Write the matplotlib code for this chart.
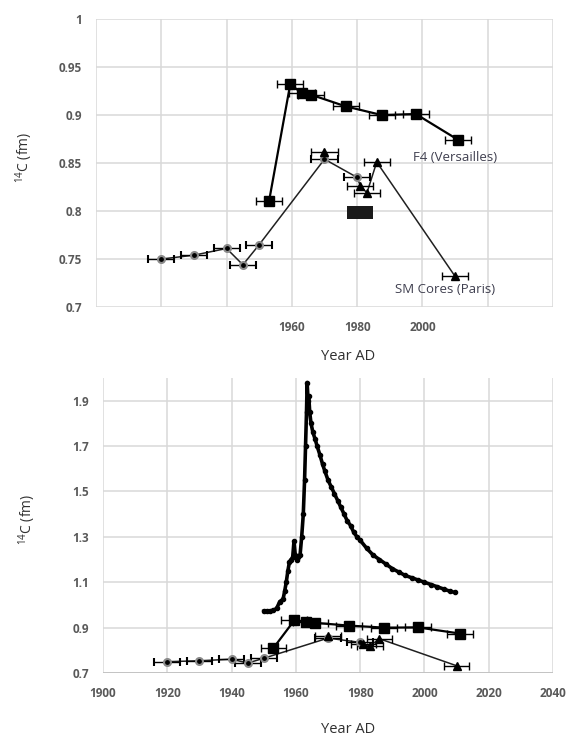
#!/usr/bin/env python3

import matplotlib
matplotlib.use("Agg")
import matplotlib.pyplot as plt
from matplotlib.patches import Rectangle

plt.rcParams['font.family'] = ['Open Sans', 'DejaVu Sans']
plt.rcParams['mathtext.fontset'] = 'custom'
plt.rcParams['mathtext.rm'] = 'Open Sans'

# F4 (Versailles) squares
f4_year = [1953, 1959.5, 1963, 1966, 1976.5, 1987.5, 1998, 2011]
f4_val = [0.810, 0.932, 0.923, 0.921, 0.909, 0.900, 0.901, 0.874]

# SM Cores (Paris): circles and triangles
sm_circ_year = [1920, 1930, 1940, 1945, 1950, 1970, 1980]
sm_circ_val = [0.750, 0.754, 0.761, 0.744, 0.765, 0.854, 0.835]
sm_tri_year = [1970, 1981, 1983, 1986, 2010]
sm_tri_val = [0.862, 0.826, 0.819, 0.851, 0.732]
year_err = 4

# black box in top panel
box_years = (1977, 1985)
box_vals = (0.792, 0.805)

# atmospheric bomb curve (bottom panel)
bomb_year = [1950.0, 1951.0, 1952.0, 1953.0, 1954.0, 1955.0, 1956.0, 1956.5,
             1957.0, 1957.5, 1958.0, 1958.5, 1959.0, 1959.4, 1959.8, 1960.3,
             1960.8, 1961.3, 1961.8, 1962.3, 1962.7, 1963.0, 1963.3, 1963.5,
             1963.8, 1964.0, 1964.3, 1964.7, 1965.3, 1966.0, 1966.6, 1967.5,
             1968.3, 1969.0, 1970.0, 1971.0, 1972.0, 1973.0, 1974.0, 1975.0,
             1976.0, 1977.0, 1978.0, 1979.0, 1980.0, 1982.0, 1984.0, 1986.0,
             1988.0, 1990.0, 1992.0, 1994.0, 1996.0, 1998.0, 2000.0, 2002.0,
             2004.0, 2006.0, 2008.0, 2009.5]
bomb_val = [0.972, 0.973, 0.974, 0.976, 0.985, 1.015, 1.025, 1.06,
            1.10, 1.15, 1.19, 1.20, 1.21, 1.28, 1.22, 1.20,
            1.21, 1.22, 1.30, 1.40, 1.55, 1.70, 1.85, 1.98,
            1.90, 1.92, 1.85, 1.80, 1.76, 1.73, 1.70, 1.66,
            1.62, 1.59, 1.55, 1.52, 1.49, 1.46, 1.43, 1.40,
            1.37, 1.35, 1.32, 1.30, 1.285, 1.25, 1.22, 1.20,
            1.18, 1.16, 1.145, 1.13, 1.12, 1.11, 1.10, 1.09,
            1.08, 1.07, 1.06, 1.055]

x_ticks = [1900, 1920, 1940, 1960, 1980, 2000, 2020, 2040]
top_xlabels = ['', '', '', '1960', '1980', '2000', '', '']
top_yticks = [0.7, 0.75, 0.8, 0.85, 0.9, 0.95, 1.0]
bot_yticks = [0.7, 0.9, 1.1, 1.3, 1.5, 1.7, 1.9]

grid_c = '#d9d9d9'
tick_c = '#595959'
text_c = '#404050'


def style_axes(ax, yticks, ylim):
    ax.set_xlim(1900, 2040)
    ax.set_ylim(*ylim)
    ax.set_xticks(x_ticks)
    ax.set_yticks(yticks)
    ax.set_yticklabels(['{:g}'.format(v) for v in yticks])
    for s in ax.spines.values():
        s.set_visible(False)
    ax.grid(True, color=grid_c, linewidth=1.1)
    ax.set_axisbelow(True)
    ax.tick_params(length=0, colors=tick_c, labelsize=8.5, pad=10)
    for lab in ax.get_xticklabels() + ax.get_yticklabels():
        lab.set_fontweight('bold')
    ax.set_xlabel('Year AD', fontsize=10.5, color='#303030')
    ax.set_ylabel(r'$\mathregular{^{14}}$C (fm)', fontsize=10, color='#303030')


def draw_series(ax):
    ebkw = dict(ecolor='black', elinewidth=1, capsize=3, capthick=1, zorder=3)
    # SM cores line
    line_x = sm_circ_year + sm_tri_year[1:]
    line_y = sm_circ_val + sm_tri_val[1:]
    ax.plot(line_x, line_y, color='#202020', linewidth=1.1, zorder=2)
    ax.errorbar(sm_circ_year, sm_circ_val, xerr=year_err, fmt='o',
                color='black', ms=5, mfc='black', mec='#8a8a8a', mew=1.5, **ebkw)
    ax.errorbar(sm_tri_year, sm_tri_val, xerr=year_err, fmt='^',
                color='black', ms=6, **ebkw)
    # F4 line
    ax.plot(f4_year, f4_val, color='black', linewidth=1.6, zorder=2)
    ax.errorbar(f4_year, f4_val, xerr=year_err, fmt='s',
                color='black', ms=7, **ebkw)


fig = plt.figure(figsize=(5.67, 7.37), dpi=100)

ax1 = fig.add_axes([0.1693, 0.5834, 0.806, 0.3908])
style_axes(ax1, top_yticks, (0.7, 1.0))
ax1.set_xticklabels(top_xlabels)
draw_series(ax1)
ax1.add_patch(Rectangle((box_years[0], box_vals[0]),
                        box_years[1] - box_years[0], box_vals[1] - box_vals[0],
                        facecolor='#1a1a1a', edgecolor='none', zorder=3))
ax1.text(1997, 0.856, 'F4 (Versailles)', fontsize=9.5, color=text_c,
         ha='left', va='center')
ax1.text(1991.5, 0.718, 'SM Cores (Paris)', fontsize=9.5, color=text_c,
         ha='left', va='center')
ax1.xaxis.set_label_coords(0.551, -0.145)
ax1.yaxis.set_label_coords(-0.133, 0.52)

ax2 = fig.add_axes([0.1817, 0.0868, 0.7937, 0.4003])
style_axes(ax2, bot_yticks, (0.7, 2.0))
ax2.set_xticklabels([str(v) for v in x_ticks])
for lab in ax2.get_xticklabels():
    lab.set_fontweight('bold')
ax2.plot(bomb_year, bomb_val, color='black', linewidth=2.6, marker='o',
         ms=3, zorder=2)
draw_series(ax2)
ax2.axhline(0.7, color='#bfbfbf', linewidth=1.2, zorder=1)
ax2.xaxis.set_label_coords(0.544, -0.165)
ax2.yaxis.set_label_coords(-0.144, 0.519)

fig.savefig('out.png', dpi=100)
